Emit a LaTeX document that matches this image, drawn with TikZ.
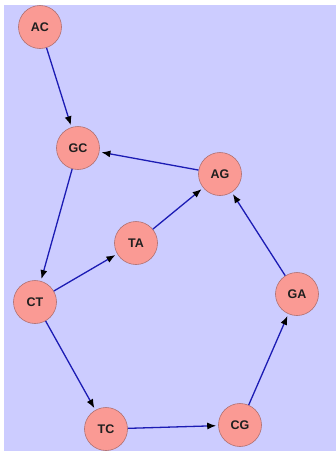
\documentclass[tikz,border=0pt]{standalone}
\usepackage{fontspec}
\setmainfont{Liberation Sans}
\usetikzlibrary{arrows.meta}
\definecolor{bgc}{HTML}{CCCCFF}
\definecolor{nodefill}{HTML}{FA9A94}
\definecolor{nodeedge}{HTML}{B07070}
\definecolor{edgec}{HTML}{1C1CB4}
\begin{document}
\begin{tikzpicture}[x=1pt,y=-1pt,
  vert/.style={circle,draw=nodeedge,fill=nodefill,line width=0.6pt,minimum size=43pt,inner sep=0pt,font=\fontsize{12.5}{13}\selectfont\bfseries,text=black!88},
  edge/.style={draw=edgec,line width=1.3pt,-{Latex[black,length=9pt,width=7pt]},shorten >=2pt}]
\useasboundingbox (0,0) rectangle (336,451);
\fill[white] (0,0) rectangle (336,451);
\fill[bgc] (4,5) rectangle (336,451);
\node[vert] (AC) at (40,27) {AC};
\node[vert] (GC) at (78,148) {GC};
\node[vert] (AG) at (220,174) {AG};
\node[vert] (TA) at (136,243) {TA};
\node[vert] (CT) at (35,302) {CT};
\node[vert] (GA) at (297,294) {GA};
\node[vert] (TC) at (106,429) {TC};
\node[vert] (CG) at (240,425) {CG};
\draw[edge] (AC) -- (GC);
\draw[edge] (AG) -- (GC);
\draw[edge] (GC) -- (CT);
\draw[edge] (CT) -- (TA);
\draw[edge] (TA) -- (AG);
\draw[edge] (CT) -- (TC);
\draw[edge] (TC) -- (CG);
\draw[edge] (CG) -- (GA);
\draw[edge] (GA) -- (AG);
\end{tikzpicture}
\end{document}
